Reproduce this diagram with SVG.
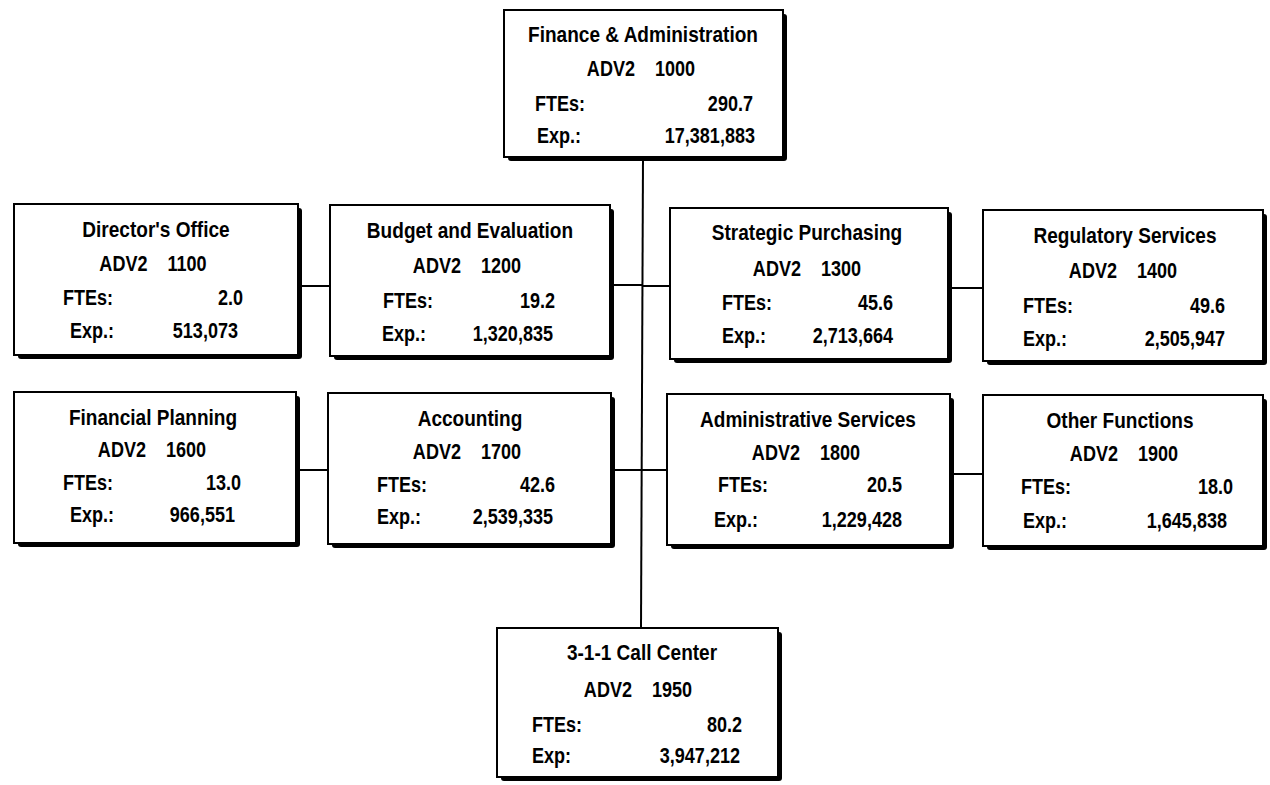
<svg xmlns="http://www.w3.org/2000/svg" width="1270" height="785" viewBox="0 0 1270 785">
<style>
  .bg{fill:#fff}
  .sh{fill:#000}
  .box{fill:#fff;stroke:#000;stroke-width:2}
  text{font-family:"Liberation Sans",Arial,sans-serif;font-weight:bold;font-size:22px;fill:#000}
  .c{text-anchor:middle}
  .r{text-anchor:end}
  .conn{stroke:#000;stroke-width:2;fill:none}
</style>
<rect class="bg" x="0" y="0" width="1270" height="785"/>
<g id="connectors">
  <path class="conn" d="M643 157 L641 628"/>
  <path class="conn" d="M298 286 H330"/>
  <path class="conn" d="M610 285 H643"/>
  <path class="conn" d="M643 286 H670"/>
  <path class="conn" d="M948 288 H983"/>
  <path class="conn" d="M296 470 H328"/>
  <path class="conn" d="M611 470 H643"/>
  <path class="conn" d="M642 470 H667"/>
  <path class="conn" d="M950 474 H983"/>
</g>
<g id="node-1000">
  <rect class="sh" x="508" y="14" width="279" height="147" rx="3"/>
  <rect class="box" x="504" y="10" width="279" height="147"/>
  <text class="c" transform="translate(643 42) scale(0.866 1)">Finance &amp; Administration</text>
  <text class="c" transform="translate(641 76) scale(0.82 1)" xml:space="preserve">ADV2    1000</text>
  <text transform="translate(535 111) scale(0.82 1)">FTEs:</text><text class="r" transform="translate(753 111) scale(0.82 1)">290.7</text>
  <text transform="translate(537 143) scale(0.82 1)">Exp.:</text><text class="r" transform="translate(755 143) scale(0.82 1)">17,381,883</text>
</g>
<g id="node-1100">
  <rect class="sh" x="18" y="208" width="284" height="151" rx="3"/>
  <rect class="box" x="14" y="204" width="284" height="151"/>
  <text class="c" transform="translate(156 237) scale(0.866 1)">Director's Office</text>
  <text class="c" transform="translate(153 271) scale(0.82 1)" xml:space="preserve">ADV2    1100</text>
  <text transform="translate(63 305) scale(0.82 1)">FTEs:</text><text class="r" transform="translate(243 305) scale(0.82 1)">2.0</text>
  <text transform="translate(70 338) scale(0.82 1)">Exp.:</text><text class="r" transform="translate(238 338) scale(0.82 1)">513,073</text>
</g>
<g id="node-1200">
  <rect class="sh" x="334" y="209" width="280" height="151" rx="3"/>
  <rect class="box" x="330" y="205" width="280" height="151"/>
  <text class="c" transform="translate(470 238) scale(0.866 1)">Budget and Evaluation</text>
  <text class="c" transform="translate(467 273) scale(0.82 1)" xml:space="preserve">ADV2    1200</text>
  <text transform="translate(383 308) scale(0.82 1)">FTEs:</text><text class="r" transform="translate(555 308) scale(0.82 1)">19.2</text>
  <text transform="translate(382 341) scale(0.82 1)">Exp.:</text><text class="r" transform="translate(553 341) scale(0.82 1)">1,320,835</text>
</g>
<g id="node-1300">
  <rect class="sh" x="674" y="212" width="278" height="151" rx="3"/>
  <rect class="box" x="670" y="208" width="278" height="151"/>
  <text class="c" transform="translate(807 240) scale(0.866 1)">Strategic Purchasing</text>
  <text class="c" transform="translate(807 276) scale(0.82 1)" xml:space="preserve">ADV2    1300</text>
  <text transform="translate(722 310) scale(0.82 1)">FTEs:</text><text class="r" transform="translate(893 310) scale(0.82 1)">45.6</text>
  <text transform="translate(722 343) scale(0.82 1)">Exp.:</text><text class="r" transform="translate(893 343) scale(0.82 1)">2,713,664</text>
</g>
<g id="node-1400">
  <rect class="sh" x="987" y="214" width="280" height="151" rx="3"/>
  <rect class="box" x="983" y="210" width="280" height="151"/>
  <text class="c" transform="translate(1125 243) scale(0.866 1)">Regulatory Services</text>
  <text class="c" transform="translate(1123 278) scale(0.82 1)" xml:space="preserve">ADV2    1400</text>
  <text transform="translate(1023 313) scale(0.82 1)">FTEs:</text><text class="r" transform="translate(1225 313) scale(0.82 1)">49.6</text>
  <text transform="translate(1023 346) scale(0.82 1)">Exp.:</text><text class="r" transform="translate(1225 346) scale(0.82 1)">2,505,947</text>
</g>
<g id="node-1600">
  <rect class="sh" x="18" y="396" width="282" height="151" rx="3"/>
  <rect class="box" x="14" y="392" width="282" height="151"/>
  <text class="c" transform="translate(153 425) scale(0.866 1)">Financial Planning</text>
  <text class="c" transform="translate(152 457) scale(0.82 1)" xml:space="preserve">ADV2    1600</text>
  <text transform="translate(63 490) scale(0.82 1)">FTEs:</text><text class="r" transform="translate(241 490) scale(0.82 1)">13.0</text>
  <text transform="translate(70 522) scale(0.82 1)">Exp.:</text><text class="r" transform="translate(235 522) scale(0.82 1)">966,551</text>
</g>
<g id="node-1700">
  <rect class="sh" x="332" y="397" width="283" height="151" rx="3"/>
  <rect class="box" x="328" y="393" width="283" height="151"/>
  <text class="c" transform="translate(470 426) scale(0.866 1)">Accounting</text>
  <text class="c" transform="translate(467 459) scale(0.82 1)" xml:space="preserve">ADV2    1700</text>
  <text transform="translate(377 492) scale(0.82 1)">FTEs:</text><text class="r" transform="translate(555 492) scale(0.82 1)">42.6</text>
  <text transform="translate(377 524) scale(0.82 1)">Exp.:</text><text class="r" transform="translate(553 524) scale(0.82 1)">2,539,335</text>
</g>
<g id="node-1800">
  <rect class="sh" x="671" y="398" width="283" height="151" rx="3"/>
  <rect class="box" x="667" y="394" width="283" height="151"/>
  <text class="c" transform="translate(808 427) scale(0.866 1)">Administrative Services</text>
  <text class="c" transform="translate(806 460) scale(0.82 1)" xml:space="preserve">ADV2    1800</text>
  <text transform="translate(718 492) scale(0.82 1)">FTEs:</text><text class="r" transform="translate(902 492) scale(0.82 1)">20.5</text>
  <text transform="translate(714 527) scale(0.82 1)">Exp.:</text><text class="r" transform="translate(902 527) scale(0.82 1)">1,229,428</text>
</g>
<g id="node-1900">
  <rect class="sh" x="987" y="399" width="280" height="151" rx="3"/>
  <rect class="box" x="983" y="395" width="280" height="151"/>
  <text class="c" transform="translate(1120 428) scale(0.866 1)">Other Functions</text>
  <text class="c" transform="translate(1124 461) scale(0.82 1)" xml:space="preserve">ADV2    1900</text>
  <text transform="translate(1021 494) scale(0.82 1)">FTEs:</text><text class="r" transform="translate(1233 494) scale(0.82 1)">18.0</text>
  <text transform="translate(1023 528) scale(0.82 1)">Exp.:</text><text class="r" transform="translate(1227 528) scale(0.82 1)">1,645,838</text>
</g>
<g id="node-1950">
  <rect class="sh" x="501" y="632" width="281" height="149" rx="3"/>
  <rect class="box" x="497" y="628" width="281" height="149"/>
  <text class="c" transform="translate(642 660) scale(0.866 1)">3-1-1 Call Center</text>
  <text class="c" transform="translate(638 697) scale(0.82 1)" xml:space="preserve">ADV2    1950</text>
  <text transform="translate(532 732) scale(0.82 1)">FTEs:</text><text class="r" transform="translate(742 732) scale(0.82 1)">80.2</text>
  <text transform="translate(532 763) scale(0.82 1)">Exp:</text><text class="r" transform="translate(740 763) scale(0.82 1)">3,947,212</text>
</g>
</svg>
